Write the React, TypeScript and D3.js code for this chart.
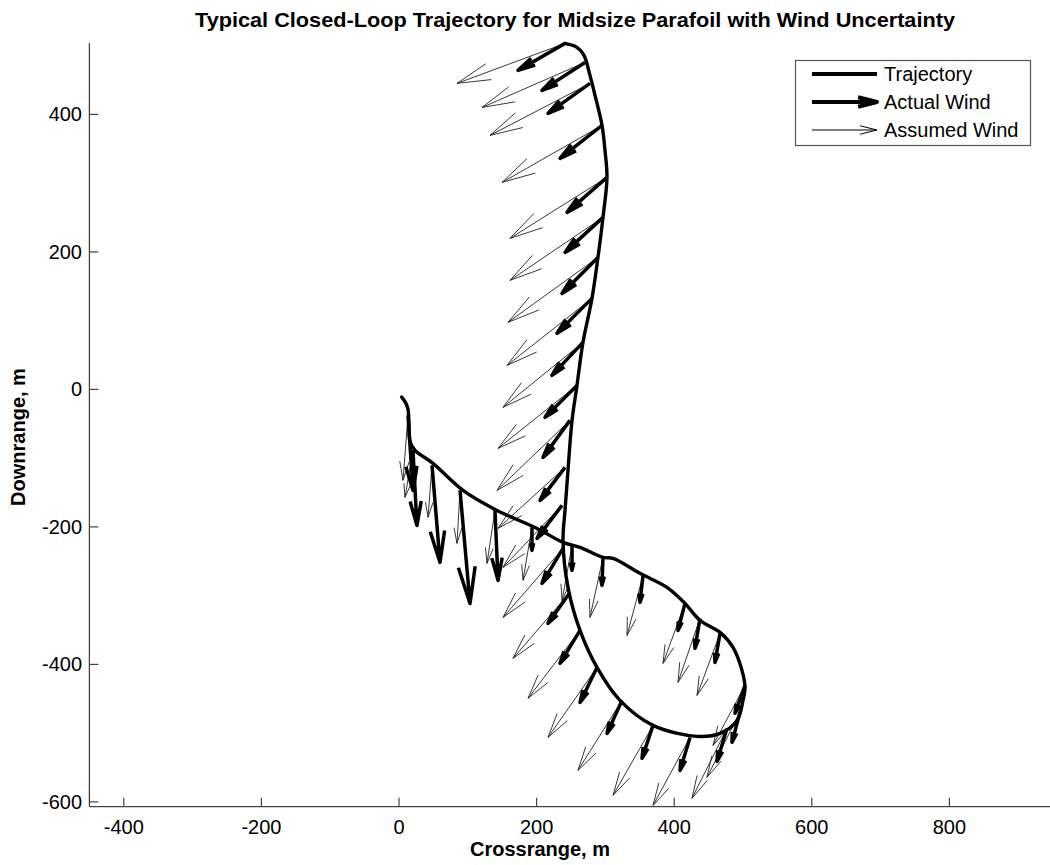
import React from 'react';
import * as d3 from 'd3';

// ---- Data (metres)
// trajectory, from the drop point (tail) round the loop and up to the top
const trajX = [3.9, 9.4, 13.1, 14.5, 16.0, 23.3, 49.4, 93.0, 142.4, 200.6, 238.4, 263.1, 296.5, 311.0, 350.3, 389.5, 415.7, 437.5, 466.6, 485.5, 498.5, 502.9, 500.0, 491.3, 466.6, 433.1, 369.2, 321.2, 287.8, 263.1, 245.6, 238.4, 241.3, 245.6, 251.5, 258.7, 267.4, 280.5, 289.2, 296.5, 302.3, 299.4, 295.1, 284.9, 277.6, 268.9, 258.7, 241.3];
const trajY = [-11.2, -18.9, -29.1, -50.9, -75.6, -88.7, -107.6, -146.9, -176.0, -202.2, -222.5, -229.8, -244.4, -245.8, -267.6, -288.0, -311.3, -336.0, -353.5, -375.3, -408.7, -433.5, -452.4, -481.5, -500.4, -504.7, -488.7, -452.4, -404.4, -350.5, -288.0, -219.6, -176.0, -117.8, -45.1, 5.8, 68.4, 132.4, 192.0, 250.2, 308.4, 347.6, 384.0, 427.6, 456.7, 485.8, 497.5, 503.3];

// wind arrows: origin on the trajectory, actual and assumed wind vectors
const windX = [241.3, 270.3, 277.6, 295.1, 302.3, 296.5, 289.2, 280.5, 267.4, 258.7, 248.5, 241.3, 236.9,
  238.4, 248.5, 263.1, 287.8, 324.1, 369.2, 423.0, 476.7, 495.6, 502.9,
  466.6, 437.5, 415.7, 354.7, 296.5, 251.5, 193.3, 139.5, 88.7, 48.0, 20.3, 13.1];
const windY = [503.3, 475.6, 445.1, 384.0, 308.4, 250.2, 192.0, 132.4, 68.4, 5.8, -45.1, -113.5, -168.7,
  -231.3, -295.3, -350.5, -404.4, -452.4, -488.7, -506.2, -493.1, -469.8, -430.5,
  -354.9, -333.1, -311.3, -270.5, -244.4, -226.9, -200.7, -176.0, -146.9, -110.5, -88.7, -37.8];
const actualU = [-68.3, -62.5, -61.0, -61.0, -58.1, -55.2, -52.3, -50.9, -45.1, -46.5, -39.2, -36.3, -36.3,
  -30.5, -32.0, -29.1, -24.7, -21.8, -16.0, -14.5, -14.5, -11.6, -14.5,
  -7.3, -7.3, -10.2, -4.4, -1.5, 0, 0, 4.4, 14.5, 11.6, 5.8, 7.3];
const actualV = [-39.3, -40.7, -43.6, -48.0, -50.9, -50.9, -52.4, -50.9, -48.0, -46.5, -53.8, -48.0, -48.0,
  -50.9, -45.1, -48.0, -50.9, -48.0, -48.0, -48.0, -48.0, -43.6, -40.7,
  -42.2, -43.6, -39.3, -39.3, -40.7, -36.4, -33.5, -101.8, -164.4, -141.1, -109.1, -109.1];
const assumedU = [-157.0, -149.7, -145.3, -145.3, -141.0, -135.2, -130.8, -123.5, -116.3, -114.8, -106.1, -97.4, -85.8,
  -87.2, -82.8, -75.6, -71.2, -64.0, -58.1, -53.8, -50.9, -48.0, -46.5,
  -33.4, -32.0, -32.0, -23.3, -18.9, -14.5, -13.1, -11.6, -4.4, -5.8, -11.6, -7.3];
const assumedV = [-58.2, -65.5, -75.6, -82.9, -88.7, -91.6, -94.5, -97.5, -94.5, -91.6, -101.8, -88.7, -90.2,
  -100.4, -96.0, -98.9, -101.8, -101.8, -101.8, -98.9, -101.8, -94.5, -87.3,
  -90.2, -93.1, -87.3, -87.3, -87.3, -80.0, -77.1, -77.1, -77.1, -75.6, -68.4, -94.5];

const xTicks = [-400, -200, 0, 200, 400, 600, 800];
const yTicks = [-600, -400, -200, 0, 200, 400];
const legendLabels = ['Trajectory', 'Actual Wind', 'Assumed Wind'];

const FONT = '"Liberation Sans", Arial, Helvetica, sans-serif';

function arrowPath(x0: number, y0: number, x1: number, y1: number, frac: number, deg: number) {
  const dx = x1 - x0, dy = y1 - y0;
  const len = Math.hypot(dx, dy);
  const hl = len * frac;
  const ang = Math.atan2(dy, dx);
  const a = (deg * Math.PI) / 180;
  const b1x = x1 - hl * Math.cos(ang - a), b1y = y1 - hl * Math.sin(ang - a);
  const b2x = x1 - hl * Math.cos(ang + a), b2y = y1 - hl * Math.sin(ang + a);
  return `M${x0},${y0}L${x1},${y1}M${b1x},${b1y}L${x1},${y1}L${b2x},${b2y}`;
}

export default function App() {
  const x = d3.scaleLinear().domain([-450, 950]).range([89.4, 1052.6]);
  const y = d3.scaleLinear().domain([-607, 504]).range([806.7, 42.9]);
  const x0 = x.range()[0];
  const yb = y.range()[0];

  const line = d3.line<number>()
    .x((_, i) => x(trajX[i]))
    .y((_, i) => y(trajY[i]))
    .curve(d3.curveCatmullRom.alpha(0.5));

  const idx = windX.map((_, i) => i);

  return (
    <svg width={1050} height={865} style={{ position: 'absolute', left: 0, top: 0, background: '#fff' }}
      fontFamily={FONT}>
      <rect width={1050} height={865} fill="#fff" />
      <text x={575} y={27} textAnchor="middle" fontWeight="bold" fontSize={21}
        textLength={760} lengthAdjust="spacingAndGlyphs">
        Typical Closed-Loop Trajectory for Midsize Parafoil with Wind Uncertainty
      </text>

      {/* axes */}
      <line x1={x0} x2={1052} y1={yb} y2={yb} stroke="#444" strokeWidth={1.3} />
      <line x1={x0} x2={x0} y1={yb} y2={y.range()[1]} stroke="#444" strokeWidth={1.3} />
      {xTicks.map(t => (
        <g key={'x' + t}>
          <line x1={x(t)} x2={x(t)} y1={yb} y2={yb - 9} stroke="#444" strokeWidth={1.2} />
          <text x={x(t)} y={834} textAnchor="middle" fontSize={20}>{t}</text>
        </g>
      ))}
      {yTicks.map(t => (
        <g key={'y' + t}>
          <line x1={x0} x2={x0 + 9} y1={y(t)} y2={y(t)} stroke="#444" strokeWidth={1.2} />
          <text x={82} y={y(t) + 7} textAnchor="end" fontSize={20}>{t}</text>
        </g>
      ))}
      <text x={540} y={856} textAnchor="middle" fontWeight="bold" fontSize={20}>Crossrange, m</text>
      <text transform="translate(25,437) rotate(-90)" textAnchor="middle" fontWeight="bold" fontSize={20}>
        Downrange, m
      </text>

      {/* assumed wind (thin) */}
      {idx.map(i => (
        <path key={'as' + i}
          d={arrowPath(x(windX[i]), y(windY[i]), x(windX[i] + assumedU[i]), y(windY[i] + assumedV[i]), 0.3, 14)}
          fill="none" stroke="#222" strokeWidth={0.9} />
      ))}
      {/* actual wind (thick) */}
      {idx.map(i => (
        <path key={'ac' + i}
          d={arrowPath(x(windX[i]), y(windY[i]), x(windX[i] + actualU[i]), y(windY[i] + actualV[i]), 0.33, 13)}
          fill="none" stroke="#000" strokeWidth={3.5} strokeLinejoin="round" />
      ))}
      {/* trajectory */}
      <path d={line(trajX) || ''} fill="none" stroke="#000" strokeWidth={3.4} strokeLinejoin="round" strokeLinecap="round" />

      {/* legend */}
      <rect x={795.5} y={60.5} width={235} height={85} fill="#fff" stroke="#555" strokeWidth={1.2} />
      <line x1={812} x2={877} y1={74} y2={74} stroke="#000" strokeWidth={4} />
      <path d={arrowPath(812, 102, 877, 102, 0.3, 14)} fill="none" stroke="#000" strokeWidth={4} strokeLinejoin="round" />
      <path d={arrowPath(812, 130, 877, 130, 0.27, 14)} fill="none" stroke="#000" strokeWidth={1} />
      {legendLabels.map((l, i) => (
        <text key={l} x={884} y={[74, 102, 130][i] + 7} fontSize={20}>{l}</text>
      ))}
    </svg>
  );
}
